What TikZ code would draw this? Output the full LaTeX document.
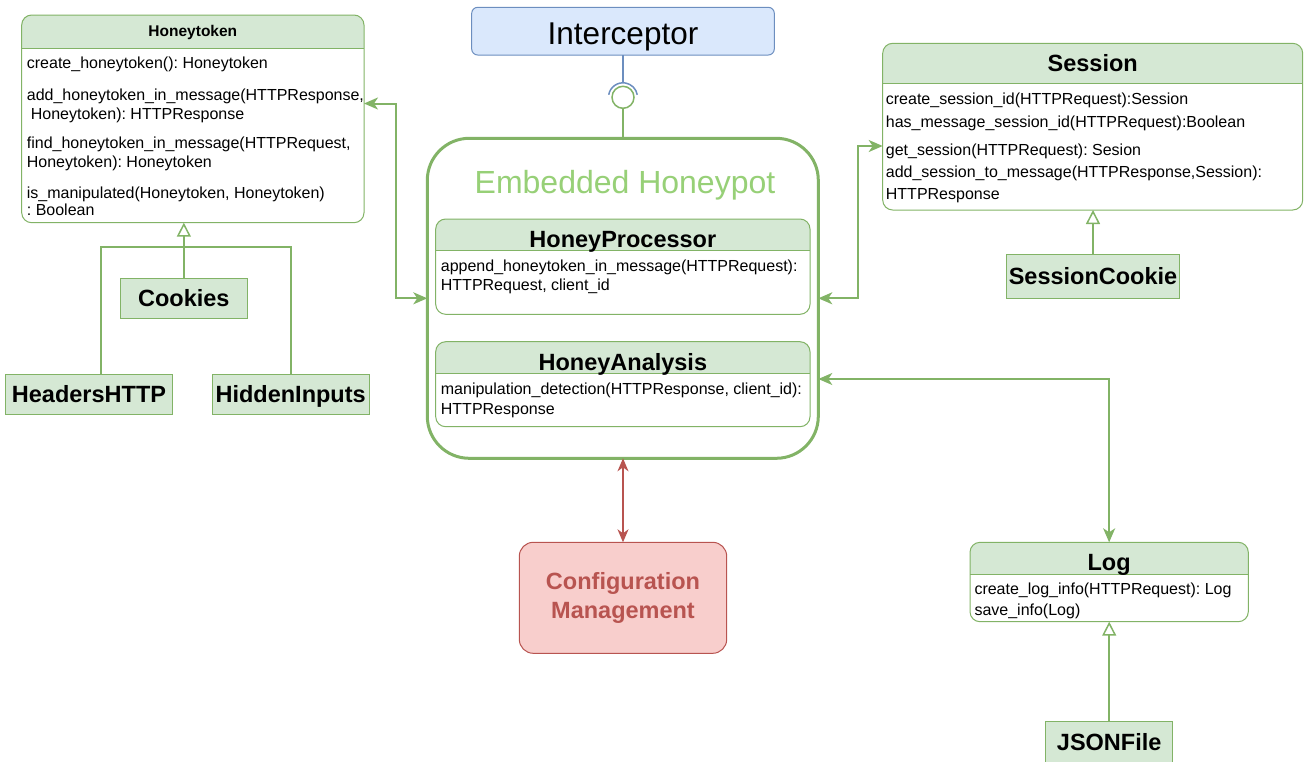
\documentclass[tikz,border=0pt]{standalone}
\usepackage{fontspec}
\setmainfont{Liberation Sans}
\usetikzlibrary{arrows.meta,calc}
\definecolor{gfill}{HTML}{D5E8D4}
\definecolor{gline}{HTML}{82B366}
\definecolor{glight}{HTML}{97D077}
\definecolor{bfill}{HTML}{DAE8FC}
\definecolor{bline}{HTML}{6C8EBF}
\definecolor{rfill}{HTML}{F8CECC}
\definecolor{rline}{HTML}{B85450}
\frenchspacing
\newcommand{\fsz}[2]{\fontsize{#1}{#2}\selectfont}
\tikzset{
  sbox/.style={draw=gline, line width=1pt, fill=gfill, anchor=north west, inner sep=0pt, outer sep=0pt,
    text depth=0pt, font=\fsz{23.5}{28}\bfseries},
  meth/.style={anchor=base west, inner sep=0pt, font=\fsz{16}{19}},
  ttl/.style={anchor=base, inner sep=0pt},
  conn/.style={draw=gline, line width=2pt, {Stealth[length=14pt,width=12pt,inset=4pt]}-{Stealth[length=14pt,width=12pt,inset=4pt]}},
  rconn/.style={draw=rline, line width=1.5pt, {Stealth[length=13pt,width=11pt,inset=4pt]}-{Stealth[length=13pt,width=11pt,inset=4pt]}},
  gen/.style={draw=gline, line width=2pt},
  gentip/.style={-{Triangle[open,length=14pt,width=14pt,line width=1.5pt,fill=white]}},
}
% name, x, y, w, h, header h, title font, title, title baseline
\newcommand{\clsbox}[9]{%
  \node[fill=white, anchor=north west, inner sep=0pt, outer sep=0pt, minimum width=#4, minimum height=#5] (#1) at (#2,#3) {};
  \begin{scope}
    \clip[rounded corners=10pt] (#1.north west) rectangle (#1.south east);
    \fill[gfill] (#1.north west) rectangle ($(#1.north east)+(0,#6)$);
  \end{scope}
  \draw[gline, line width=1pt] ($(#1.north west)+(0,#6)$) -- ($(#1.north east)+(0,#6)$);
  \draw[gline, line width=1pt, rounded corners=10pt] (#1.north west) rectangle (#1.south east);
  \node[ttl, font=#7] (#1-t) at ({#2+#4/2},#9) {#8};
}
\begin{document}
\begin{tikzpicture}[x=1pt,y=-1pt]
\useasboundingbox (0,0) rectangle (1307,761);

% Honeytoken class
\clsbox{ht}{21.7}{15}{342.3}{207.7}{33.3}{\fsz{15.5}{18}\bfseries}{Honeytoken}{36.3}
\node[meth] (ht1) at (26.7,68.5) {create\_honeytoken(): Honeytoken};
\node[meth] (ht2) at (26.7,100.8) {add\_honeytoken\_in\_message(HTTPResponse,};
\node[meth] (ht3) at (30.7,119.1) {Honeytoken): HTTPResponse};
\node[meth] (ht4) at (26.7,148.5) {find\_honeytoken\_in\_message(HTTPRequest,};
\node[meth] (ht5) at (26.7,167.5) {Honeytoken): Honeytoken};
\node[meth] (ht6) at (26.7,198.5) {is\_manipulated(Honeytoken, Honeytoken)};
\node[meth] (ht7) at (26.7,215.1) {: Boolean};

% subclasses of Honeytoken
\node[sbox, minimum width=127.7, minimum height=40] (ck) at (120,278.3) {Cookies};
\node[sbox, minimum width=167.4, minimum height=40] (hh) at (5.3,374.3) {HeadersHTTP};
\node[sbox, minimum width=156.7, minimum height=40] (hi) at (212.3,374.3) {HiddenInputs};
\coordinate (jn) at (183.8,246.7);
\draw[gen] ([xshift=12pt]hh.north) |- (jn) -| (hi.north);
\draw[gen, gentip] (ck.north) -- (ck.north |- ht.south);

% Interceptor
\node[draw=bline, fill=bfill, line width=1pt, rounded corners=6pt, anchor=north west, inner sep=0pt, outer sep=0pt,
  minimum width=302.6, minimum height=47.7] (ic) at (471.7,7.3) {};
\node[ttl, font=\fsz{31.5}{36}] (ic-t) at (623,44.3) {Interceptor};

% Embedded Honeypot container
\node[draw=gline, fill=white, line width=3pt, rounded corners=42pt, anchor=north west, inner sep=0pt, outer sep=0pt,
  minimum width=391, minimum height=320] (eh) at (427.3,138.3) {};
\node[ttl, font=\fsz{32}{36}, text=glight] (eh-t) at (625,193) {Embedded Honeypot};

% lollipop
\node[circle, draw=gline, fill=white, line width=1.5pt, minimum size=22pt, inner sep=0pt, outer sep=0pt] (lp) at (623,97.3) {};
\draw[gline, line width=1.5pt] (lp.south) -- (lp.south |- eh.north);
\draw[bline, line width=1.5pt] (ic.south) -- ([yshift=14.5pt]lp.center);
\draw[bline, line width=1.5pt] ([shift={(170:14.5pt)}]lp.center) arc[start angle=170, end angle=10, radius=14.5pt];

% HoneyProcessor / HoneyAnalysis
\clsbox{hp}{435.7}{219}{374.3}{95.3}{31.7}{\fsz{23.5}{28}\bfseries}{HoneyProcessor}{247.8}
\node[meth] (hp1) at (440.7,271.8) {append\_honeytoken\_in\_message(HTTPRequest):};
\node[meth] (hp2) at (440.7,290.8) {HTTPRequest, client\_id};
\clsbox{ha}{435.7}{341.7}{374.3}{85}{31.6}{\fsz{23.5}{28}\bfseries}{HoneyAnalysis}{370.8}
\node[meth] (ha1) at (440.7,394.8) {manipulation\_detection(HTTPResponse, client\_id):};
\node[meth] (ha2) at (440.7,414) {HTTPResponse};

% Session
\clsbox{ses}{882.7}{43.3}{420}{166.7}{40}{\fsz{23.5}{28}\bfseries}{Session}{71.8}
\node[meth] (s1) at (885.7,104.8) {create\_session\_id(HTTPRequest):Session};
\node[meth] (s2) at (885.7,127.5) {has\_message\_session\_id(HTTPRequest):Boolean};
\node[meth] (s3) at (885.7,155) {get\_session(HTTPRequest): Sesion};
\node[meth] (s4) at (885.7,177.5) {add\_session\_to\_message(HTTPResponse,Session):};
\node[meth] (s5) at (885.7,199) {HTTPResponse};
\node[sbox, minimum width=172.6, minimum height=44] (sc) at (1006.7,254) {SessionCookie};
\draw[gen, gentip] (sc.north) -- (sc.north |- ses.south);

% Log
\clsbox{log}{970}{542.3}{278.3}{79.4}{31.7}{\fsz{23.5}{28}\bfseries}{Log}{570.8}
\node[meth] (l1) at (974.3,594.8) {create\_log\_info(HTTPRequest): Log};
\node[meth] (l2) at (974.3,615.8) {save\_info(Log)};
\node[sbox, minimum width=127, minimum height=41.3] (js) at (1045.7,721.7) {JSONFile};
\draw[gen, gentip] (js.north) -- (js.north |- log.south);

% Configuration Management
\node[draw=rline, fill=rfill, line width=1pt, rounded corners=14pt, anchor=north west, inner sep=0pt, outer sep=0pt,
  minimum width=207.4, minimum height=111, text=rline, font=\fsz{23.5}{28.7}\bfseries, align=center] (cfg) at (519.3,542.3)
  {Configuration\\Management};

% connectors
\coordinate (c1) at (396,103.5);
\draw[conn] (ht.east |- c1) -- (c1) |- (eh.west);
\coordinate (c3) at (858,146);
\draw[conn] (eh.east) -| (c3) -- (ses.west |- c3);
\coordinate (c4) at (1109.2,379);
\draw[conn] (eh.east |- c4) -| (log.north);
\draw[rconn] (cfg.north) -- (cfg.north |- eh.south);
\end{tikzpicture}
\end{document}
